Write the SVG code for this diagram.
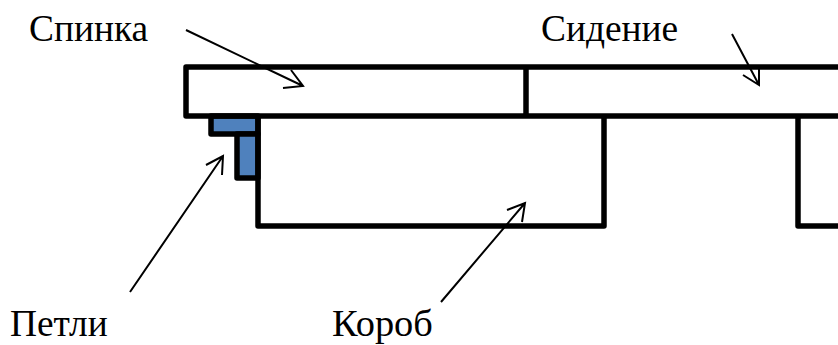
<svg xmlns="http://www.w3.org/2000/svg" width="838" height="345" viewBox="0 0 838 345">
<style>
.s{fill:none;stroke:#000;stroke-width:5.5;stroke-linejoin:round}
.h{fill:#4f81bd;stroke:#000;stroke-width:5.5;stroke-linejoin:round}
.a{fill:none;stroke:#000;stroke-width:2}
text{font-family:"Liberation Serif","Times New Roman",serif;font-size:37.4px;fill:#000}
</style>
<rect width="838" height="345" fill="#fff"/>
<g id="petli">
<path class="h" d="M211 116H258V134H211Z"/>
<path class="h" d="M237 134H258V178H237Z"/>
</g>
<g id="korob">
<path class="s" d="M258 116V226H604V116"/>
</g>
<g id="korob2">
<path class="s" d="M838 226H798V116"/>
</g>
<g id="spinka">
<path class="s" d="M838 67H186V116H838"/>
</g>
<g id="sidenie">
<path class="s" d="M526 67V116"/>
</g>
<g id="connectors">
<path class="a" d="M186 30L303 86M291 70L303 86L283 88"/>
<path class="a" d="M732 34L759 85M743 75L759 85L759 68"/>
<path class="a" d="M130 292L223 156M206 165L223 156L222 175"/>
<path class="a" d="M441 302L525 203M507 210L525 203L522 222"/>
</g>
<text x="29" y="41">Спинка</text>
<text x="541" y="41">Сидение</text>
<text x="10" y="336">Петли</text>
<text x="332" y="336" style="font-size:38.4px">Короб</text>
</svg>
